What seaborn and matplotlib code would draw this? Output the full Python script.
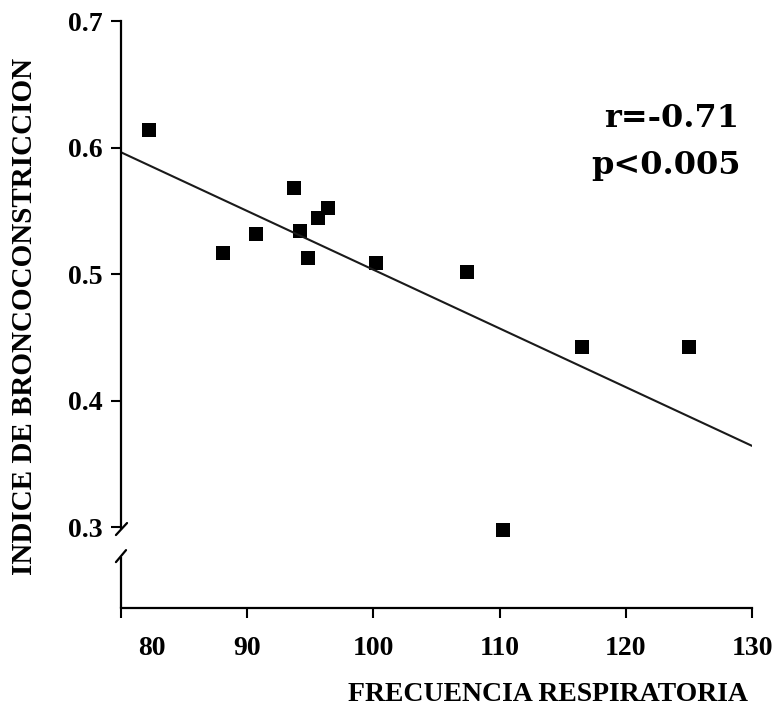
import matplotlib
matplotlib.use("Agg")
import matplotlib.pyplot as plt
import matplotlib.transforms as mtransforms
import seaborn as sns
import pandas as pd

# data
frecuencia = [82.2, 88.1, 90.7, 93.7, 94.2, 94.8, 95.6, 96.4, 100.2, 107.4, 116.5, 125.0, 110.3]
indice = [0.614, 0.517, 0.532, 0.568, 0.534, 0.513, 0.544, 0.552, 0.509, 0.502, 0.442, 0.442, 0.298]
x_ticks = [80, 90, 100, 110, 120, 130]
y_ticks = [0.3, 0.4, 0.5, 0.6, 0.7]
stats_text = ["r=-0.71", "p<0.005"]

sns.set_style("ticks")
plt.rcParams["font.family"] = ["Liberation Serif", "DejaVu Serif"]
plt.rcParams["font.weight"] = "bold"
plt.rcParams["text.color"] = "black"
plt.rcParams["xtick.color"] = "black"
plt.rcParams["ytick.color"] = "black"
plt.rcParams["xtick.labelcolor"] = "black"
plt.rcParams["ytick.labelcolor"] = "black"

df = pd.DataFrame({"FRECUENCIA": frecuencia, "INDICE": indice})

fig = plt.figure(figsize=(7.77, 7.12), dpi=100)
ax = fig.add_axes([0.1557, 0.146, 0.8123, 0.8245])
ax.set_xlim(80, 130)
ax.set_ylim(0.236, 0.7)

sns.regplot(data=df, x="FRECUENCIA", y="INDICE", ax=ax, ci=None, truncate=False,
            marker="s", color="black",
            scatter_kws={"s": 95, "linewidths": 0, "alpha": 1},
            line_kws={"lw": 1.5, "color": "#1a1a1a"})
ax.set_xlim(80, 130)
ax.set_ylim(0.236, 0.7)

ax.set_xticks(x_ticks)
ax.set_yticks(y_ticks)
ax.set_xticklabels([str(v) for v in x_ticks], fontsize=20, fontweight="bold", color="black")
ax.set_yticklabels([f"{v:.1f}" for v in y_ticks], fontsize=20, fontweight="bold", color="black")
ax.tick_params(axis="x", length=7, width=1.5, pad=13, color="black")
ax.tick_params(axis="y", length=7, width=1.5, pad=6, color="black")
# shift the "80" label a bit to the right like the original
lab = ax.get_xticklabels()[0]
lab.set_transform(lab.get_transform() + mtransforms.ScaledTranslation(0.31, 0, fig.dpi_scale_trans))

for s in ["top", "right"]:
    ax.spines[s].set_visible(False)
for s in ["left", "bottom"]:
    ax.spines[s].set_linewidth(1.6)
    ax.spines[s].set_color("black")
ax.spines["left"].set_bounds(0.299, 0.7)

# axis break
ax.plot([80, 80], [0.236, 0.276], color="black", lw=1.6, clip_on=False, solid_capstyle="butt")
ax.plot([79.60, 80.48], [0.2937, 0.3032], color="black", lw=1.6, clip_on=False)
ax.plot([79.60, 80.40], [0.2723, 0.2818], color="black", lw=1.6, clip_on=False)

ax.set_xlabel("")
ax.set_ylabel("")
fig.text(0.963, 0.024, "FRECUENCIA RESPIRATORIA", ha="right", va="center",
         fontsize=20, fontweight="bold", color="black")
fig.text(0.031, 0.556, "INDICE DE BRONCOCONSTRICCION", ha="center", va="center",
         rotation=90, fontsize=21, fontweight="bold", color="black")

fig.text(0.951, 0.833, stats_text[0], ha="right", va="center", fontsize=23,
         fontweight="bold", family="DejaVu Serif", color="black")
fig.text(0.953, 0.768, stats_text[1], ha="right", va="center", fontsize=23,
         fontweight="bold", family="DejaVu Serif", color="black")

fig.savefig("out.png", dpi=100, facecolor="white")
